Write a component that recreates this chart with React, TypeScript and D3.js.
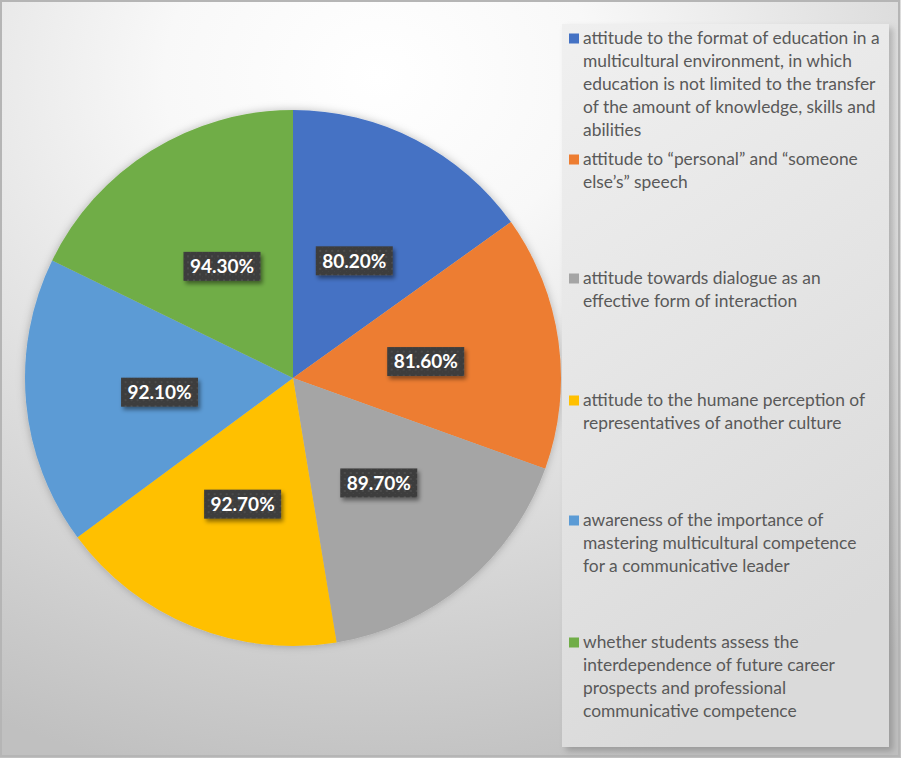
import React from "react";
import * as d3 from "d3";

const values = [80.2, 81.6, 89.7, 92.7, 92.1, 94.3];
const valueLabels = ["80.20%", "81.60%", "89.70%", "92.70%", "92.10%", "94.30%"];
const colors = ["#4472C4", "#ED7D31", "#A5A5A5", "#FFC000", "#5B9BD5", "#70AD47"];
const legendLines = [
  ["attitude to the format of education in a", "multicultural environment, in which", "education is not limited to the transfer", "of the amount of knowledge, skills and", "abilities"],
  ["attitude to \u201cpersonal\u201d and \u201csomeone", "else\u2019s\u201d speech"],
  ["attitude towards dialogue as an", "effective form of interaction"],
  ["attitude to the humane perception of", "representatives of another culture"],
  ["awareness of the importance of", "mastering multicultural competence", "for a communicative leader"],
  ["whether students assess the", "interdependence of future career", "prospects and professional", "communicative competence"],
];
const legendY = [38, 159, 278, 400, 520, 642];

const W = 901, H = 758;
const cx = 293, cy = 378, R = 268;
const FONT = "Lato, 'Open Sans', sans-serif";

export default function App() {
  const pie = d3.pie<number>().sort(null).value((d) => d)(values);
  const arc = d3.arc<d3.PieArcDatum<number>>().innerRadius(0).outerRadius(R);
  return (
    <div style={{ position: "absolute", left: 0, top: 0 }}>
      <svg width={W} height={H} style={{ display: "block" }}>
        <defs>
          <radialGradient id="bg" cx="0.42" cy="0.1" r="0.95" gradientUnits="objectBoundingBox">
            <stop offset="0" stopColor="#ffffff" />
            <stop offset="0.25" stopColor="#f8f8f8" />
            <stop offset="1" stopColor="#c0c0c0" />
          </radialGradient>
          <linearGradient id="lg" x1="0" y1="0" x2="0.3" y2="1">
            <stop offset="0" stopColor="#f0f0f0" />
            <stop offset="1" stopColor="#dadada" />
          </linearGradient>
          <pattern id="dots" width="6" height="6" patternUnits="userSpaceOnUse">
            <rect width="6" height="6" fill="#3c3c3c" />
            <rect x="1" y="1" width="2" height="2" fill="#4c4c4c" />
            <rect x="4" y="4" width="1" height="1" fill="#474747" />
          </pattern>
          <filter id="sh" x="-20%" y="-20%" width="150%" height="150%">
            <feDropShadow dx="2" dy="3" stdDeviation="2" floodColor="#000" floodOpacity="0.45" />
          </filter>
          <filter id="psh" x="-10%" y="-10%" width="120%" height="120%">
            <feDropShadow dx="0" dy="0" stdDeviation="4" floodColor="#000" floodOpacity="0.25" />
          </filter>
          <filter id="lsh" x="-5%" y="-5%" width="115%" height="110%">
            <feDropShadow dx="4" dy="4" stdDeviation="3" floodColor="#000" floodOpacity="0.2" />
          </filter>
        </defs>
        <rect x={0} y={0} width={W} height={H} fill="url(#bg)" />
        <rect x={1} y={1} width={W - 3} height={H - 3} fill="none" stroke="#b5b5b5" strokeWidth={2} />

        <g transform={`translate(${cx},${cy})`} filter="url(#psh)">
          {pie.map((p, i) => (
            <path key={i} d={arc(p) || ""} fill={colors[i]} />
          ))}
        </g>
        <g transform={`translate(${cx},${cy})`}>
          {pie.map((p, i) => {
            const [x, y] = arc.centroid(p);
            const bw = 77, bh = 29;
            return (
              <g key={i} transform={`translate(${x},${y + 2})`}>
                <rect x={-bw / 2} y={-bh / 2} width={bw} height={bh} fill="url(#dots)" filter="url(#sh)" />
                <text x={0} y={0} dy="0.36em" textAnchor="middle" fill="#ffffff" fontFamily={FONT} fontWeight={700} fontSize={19}>
                  {valueLabels[i]}
                </text>
              </g>
            );
          })}
        </g>

        <rect x={562} y={24} width={327} height={723} fill="url(#lg)" filter="url(#lsh)" />
        {legendLines.map((lines, i) => (
          <g key={i}>
            <rect x={569} y={legendY[i] - 4.5} width={10} height={10} fill={colors[i]} />
            {lines.map((ln, j) => (
              <text key={j} x={583} y={legendY[i] + j * 23} dy="0.35em" fill="#595959" fontFamily={FONT} fontSize={17.4}>
                {ln}
              </text>
            ))}
          </g>
        ))}
      </svg>
    </div>
  );
}
